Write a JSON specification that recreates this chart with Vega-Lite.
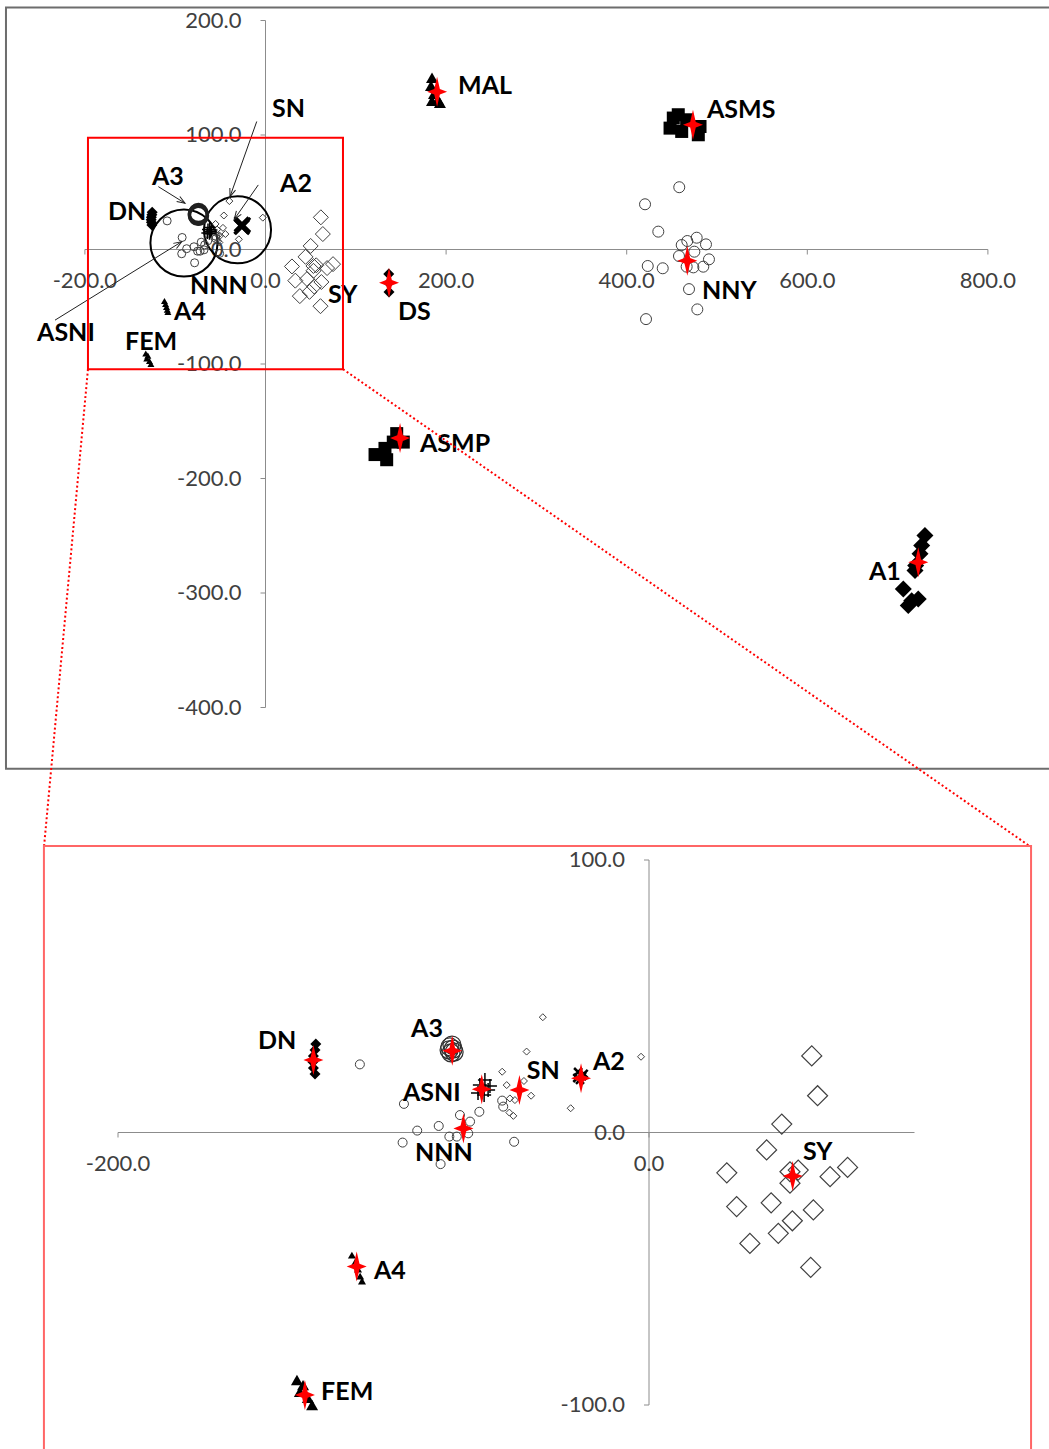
{
  "$schema": "https://vega.github.io/schema/vega-lite/v6.json",
  "width": 1049,
  "height": 1449,
  "padding": 0,
  "autosize": {"type": "none"},
  "background": "white",
  "config": {"view": {"stroke": null}, "text": {"font": "Lato"}},
  "datasets": {
    "pts": [
      {"g": "MAL", "x": 184.4, "y": 150.0}, {"g": "MAL", "x": 183.3, "y": 143.0}, {"g": "MAL", "x": 186.6, "y": 136.0},
      {"g": "MAL", "x": 191.0, "y": 130.8}, {"g": "MAL", "x": 193.2, "y": 128.2}, {"g": "MAL", "x": 184.4, "y": 129.9},
      {"g": "ASMS", "x": 448.0, "y": 106.0}, {"g": "ASMS", "x": 457.1, "y": 117.7}, {"g": "ASMS", "x": 466.4, "y": 113.3},
      {"g": "ASMS", "x": 481.2, "y": 107.4}, {"g": "ASMS", "x": 479.3, "y": 100.2}, {"g": "ASMS", "x": 460.9, "y": 103.1},
      {"g": "ASMS", "x": 451.6, "y": 114.8},
      {"g": "NNY", "x": 458.2, "y": 54.4}, {"g": "NNY", "x": 420.3, "y": 39.5}, {"g": "NNY", "x": 435.0, "y": 15.6},
      {"g": "NNY", "x": 477.5, "y": 10.3}, {"g": "NNY", "x": 467.1, "y": 7.4}, {"g": "NNY", "x": 460.9, "y": 3.9},
      {"g": "NNY", "x": 487.8, "y": 4.5}, {"g": "NNY", "x": 474.9, "y": -1.9}, {"g": "NNY", "x": 457.9, "y": -5.7},
      {"g": "NNY", "x": 491.1, "y": -8.6}, {"g": "NNY", "x": 484.8, "y": -15.0}, {"g": "NNY", "x": 473.8, "y": -15.6},
      {"g": "NNY", "x": 466.4, "y": -15.0}, {"g": "NNY", "x": 423.3, "y": -14.4}, {"g": "NNY", "x": 439.9, "y": -16.4},
      {"g": "NNY", "x": 469.0, "y": -34.6}, {"g": "NNY", "x": 478.2, "y": -52.3}, {"g": "NNY", "x": 421.4, "y": -60.8},
      {"g": "DS", "x": 136.5, "y": -21.4}, {"g": "DS", "x": 136.5, "y": -29.3}, {"g": "DS", "x": 136.8, "y": -37.2},
      {"g": "ASMP", "x": 121.3, "y": -179.1}, {"g": "ASMP", "x": 134.2, "y": -183.6}, {"g": "ASMP", "x": 141.5, "y": -168.2},
      {"g": "ASMP", "x": 152.6, "y": -168.2}, {"g": "ASMP", "x": 145.3, "y": -160.8}, {"g": "ASMP", "x": 132.3, "y": -173.7},
      {"g": "A1", "x": 730.3, "y": -249.8}, {"g": "A1", "x": 726.7, "y": -258.5}, {"g": "A1", "x": 724.8, "y": -265.8},
      {"g": "A1", "x": 720.0, "y": -276.0}, {"g": "A1", "x": 719.3, "y": -280.4}, {"g": "A1", "x": 706.3, "y": -296.4},
      {"g": "A1", "x": 715.6, "y": -306.7}, {"g": "A1", "x": 722.9, "y": -305.2}, {"g": "A1", "x": 711.8, "y": -311.0},
      {"g": "DN", "x": -125.5, "y": 32.5}, {"g": "DN", "x": -125.8, "y": 30.3}, {"g": "DN", "x": -126.4, "y": 28.1},
      {"g": "DN", "x": -126.6, "y": 25.9}, {"g": "DN", "x": -126.4, "y": 23.7}, {"g": "DN", "x": -125.8, "y": 21.5},
      {"g": "A3", "x": -75.0, "y": 31.4}, {"g": "A3", "x": -73.8, "y": 30.6}, {"g": "A3", "x": -74.6, "y": 29.2},
      {"g": "A3", "x": -73.4, "y": 29.5}, {"g": "A3", "x": -74.2, "y": 32.1}, {"g": "A3", "x": -75.3, "y": 30.3},
      {"g": "NNN", "x": -108.9, "y": 25.0}, {"g": "NNN", "x": -92.3, "y": 10.5}, {"g": "NNN", "x": -71.2, "y": 6.4},
      {"g": "NNN", "x": -63.9, "y": 7.6}, {"g": "NNN", "x": -67.4, "y": 4.0}, {"g": "NNN", "x": -79.2, "y": 2.4},
      {"g": "NNN", "x": -87.3, "y": 0.7}, {"g": "NNN", "x": -92.8, "y": -3.7}, {"g": "NNN", "x": -75.2, "y": -1.5},
      {"g": "NNN", "x": -72.4, "y": -1.5}, {"g": "NNN", "x": -68.1, "y": -0.3}, {"g": "NNN", "x": -78.5, "y": -11.6},
      {"g": "NNN", "x": -50.8, "y": -3.4}, {"g": "NNN", "x": -55.3, "y": 11.7}, {"g": "NNN", "x": -54.9, "y": 9.5},
      {"g": "ASNI", "x": -63.7, "y": 17.4}, {"g": "ASNI", "x": -61.8, "y": 19.3}, {"g": "ASNI", "x": -60.6, "y": 15.6},
      {"g": "ASNI", "x": -64.4, "y": 14.5}, {"g": "ASNI", "x": -62.1, "y": 13.8}, {"g": "ASNI", "x": -59.9, "y": 17.1},
      {"g": "SN", "x": -40.0, "y": 42.3}, {"g": "SN", "x": -46.1, "y": 29.7}, {"g": "SN", "x": -55.3, "y": 22.3},
      {"g": "SN", "x": -53.6, "y": 17.4}, {"g": "SN", "x": -47.1, "y": 18.9}, {"g": "SN", "x": -44.4, "y": 13.5},
      {"g": "SN", "x": -52.4, "y": 12.5}, {"g": "SN", "x": -50.5, "y": 11.9}, {"g": "SN", "x": -52.6, "y": 7.3},
      {"g": "SN", "x": -51.1, "y": 6.1}, {"g": "SN", "x": -29.5, "y": 8.9}, {"g": "SN", "x": -3.0, "y": 27.8},
      {"g": "A2", "x": -26.7, "y": 22.2}, {"g": "A2", "x": -25.2, "y": 20.7}, {"g": "A2", "x": -26.0, "y": 19.3},
      {"g": "A2", "x": -24.6, "y": 21.5}, {"g": "A2", "x": -27.0, "y": 20.0},
      {"g": "SY", "x": 61.3, "y": 28.1}, {"g": "SY", "x": 63.5, "y": 13.5}, {"g": "SY", "x": 50.0, "y": 3.1},
      {"g": "SY", "x": 44.3, "y": -6.4}, {"g": "SY", "x": 29.3, "y": -14.8}, {"g": "SY", "x": 53.1, "y": -14.4},
      {"g": "SY", "x": 56.2, "y": -13.8}, {"g": "SY", "x": 53.1, "y": -18.6}, {"g": "SY", "x": 68.2, "y": -16.2},
      {"g": "SY", "x": 74.8, "y": -12.8}, {"g": "SY", "x": 33.0, "y": -27.2}, {"g": "SY", "x": 46.0, "y": -25.8},
      {"g": "SY", "x": 61.9, "y": -28.4}, {"g": "SY", "x": 54.0, "y": -32.4}, {"g": "SY", "x": 48.7, "y": -37.0},
      {"g": "SY", "x": 38.0, "y": -40.7}, {"g": "SY", "x": 60.9, "y": -49.5},
      {"g": "A4", "x": -111.9, "y": -45.0}, {"g": "A4", "x": -110.7, "y": -47.6}, {"g": "A4", "x": -109.6, "y": -50.1},
      {"g": "A4", "x": -108.8, "y": -52.7}, {"g": "A4", "x": -108.1, "y": -54.5},
      {"g": "FEM", "x": -132.6, "y": -90.8}, {"g": "FEM", "x": -130.3, "y": -92.7}, {"g": "FEM", "x": -131.5, "y": -95.2},
      {"g": "FEM", "x": -128.5, "y": -97.4}, {"g": "FEM", "x": -126.9, "y": -100.0}
    ],
    "centroids": [
      {"g": "MAL", "x": 190.0, "y": 137.8}, {"g": "ASMS", "x": 473.4, "y": 108.9}, {"g": "NNY", "x": 467.1, "y": -9.8},
      {"g": "DS", "x": 136.8, "y": -29.0}, {"g": "ASMP", "x": 149.0, "y": -164.7}, {"g": "A1", "x": 722.9, "y": -273.1},
      {"g": "DN", "x": -126.4, "y": 26.6}, {"g": "A3", "x": -74.1, "y": 30.0}, {"g": "ASNI", "x": -63.0, "y": 15.9},
      {"g": "SN", "x": -48.8, "y": 15.6}, {"g": "A2", "x": -25.6, "y": 19.9}, {"g": "NNN", "x": -69.9, "y": 1.5},
      {"g": "SY", "x": 54.1, "y": -16.0}, {"g": "A4", "x": -110.1, "y": -49.2}, {"g": "FEM", "x": -129.6, "y": -96.3}
    ],
    "labelsTop": [
      {"t": "SN", "x": 7.2, "y": 122.9}, {"t": "A3", "x": -125.7, "y": 63.4}, {"t": "A2", "x": 16.1, "y": 57.3},
      {"t": "DN", "x": -174.4, "y": 32.8}, {"t": "NNN", "x": -83.6, "y": -31.9}, {"t": "A4", "x": -101.3, "y": -54.7},
      {"t": "ASNI", "x": -253.0, "y": -73.1}, {"t": "FEM", "x": -155.5, "y": -80.9}, {"t": "SY", "x": 69.2, "y": -39.8},
      {"t": "DS", "x": 146.7, "y": -54.7}, {"t": "MAL", "x": 213.2, "y": 143.0}, {"t": "ASMS", "x": 488.9, "y": 122.0},
      {"t": "NNY", "x": 483.4, "y": -36.3}, {"t": "ASMP", "x": 171.1, "y": -170.2}, {"t": "A1", "x": 668.3, "y": -281.3}
    ],
    "labelsBottom": [
      {"t": "DN", "x": -147.3, "y": 33.6}, {"t": "A3", "x": -89.6, "y": 38.0}, {"t": "ASNI", "x": -92.7, "y": 14.5},
      {"t": "SN", "x": -46.0, "y": 22.6}, {"t": "A2", "x": -21.1, "y": 25.9}, {"t": "NNN", "x": -88.1, "y": -7.5},
      {"t": "SY", "x": 58.0, "y": -7.2}, {"t": "A4", "x": -103.6, "y": -50.8}, {"t": "FEM", "x": -123.5, "y": -95.2}
    ],
    "arrows": [
      {"x": -9.7, "y": 111.8, "x2": -39.3, "y2": 46.2},
      {"x": -8.0, "y": 56.4, "x2": -34.6, "y2": 26.4},
      {"x": -118.7, "y": 54.9, "x2": -89.1, "y2": 40.4},
      {"x": -233.1, "y": -61.7, "x2": -92.8, "y2": 6.8}
    ],
    "ellipses": [{"x": -90.3, "y": 5.7}, {"x": -31.0, "y": 17.2}],
    "zoomBox": [{"x": -196.6, "x2": 85.8, "y": 97.6, "y2": -104.5}],
    "zoomLinks": [
      {"x": -196.6, "y": -104.5, "x2": -245.3, "y2": -521.9},
      {"x": 85.8, "y": -104.5, "x2": 847.8, "y2": -521.9}
    ],
    "frameTop": [{"x": -287.4, "x2": 869.9, "y": 211.3, "y2": -453.6}],
    "frameBottom": [{"x": -227.9, "x2": 143.9, "y": 105.1, "y2": -120.2}],
    "axesTop": [{"x": -200, "x2": 800, "y": 0, "y2": 0}, {"x": 0, "x2": 0, "y": -400, "y2": 200}],
    "axesBottom": [{"x": -200, "x2": 100, "y": 0, "y2": 0}, {"x": 0, "x2": 0, "y": -100, "y2": 100}],
    "xTicksTop": [{"v": -200}, {"v": 0}, {"v": 200}, {"v": 400}, {"v": 600}, {"v": 800}],
    "yTicksTop": [{"v": 200}, {"v": 100}, {"v": 0}, {"v": -100}, {"v": -200}, {"v": -300}, {"v": -400}],
    "xTicksBottom": [{"v": -200}, {"v": 0}],
    "yTicksBottom": [{"v": 100}, {"v": 0}, {"v": -100}]
  },
  "resolve": {"scale": {"x": "independent", "y": "independent"}},
  "layer": [
    {
      "encoding": {
        "x": {"field": "x", "type": "quantitative", "axis": null,
              "scale": {"domain": [-200, 800], "range": [84.9, 987.9], "nice": false, "zero": false}},
        "y": {"field": "y", "type": "quantitative", "axis": null,
              "scale": {"domain": [-400, 200], "range": [707.5, 20.5], "nice": false, "zero": false}}
      },
      "layer": [
        {"data": {"name": "frameTop"}, "mark": {"type": "rect", "fill": "transparent", "stroke": "#6d6d6d", "strokeWidth": 2},
         "encoding": {"x2": {"field": "x2"}, "y2": {"field": "y2"}}},
        {"data": {"name": "axesTop"}, "mark": {"type": "rule", "color": "#8c8c8c", "strokeWidth": 1},
         "encoding": {"x2": {"field": "x2"}, "y2": {"field": "y2"}}},
        {"data": {"name": "xTicksTop"}, "transform": [{"calculate": "datum.v", "as": "x"}, {"calculate": "0", "as": "y"}],
         "mark": {"type": "point", "shape": "M0,0L0,1", "size": 100, "filled": false, "stroke": "#8c8c8c", "strokeWidth": 1, "opacity": 1}},
        {"data": {"name": "yTicksTop"}, "transform": [{"calculate": "0", "as": "x"}, {"calculate": "datum.v", "as": "y"}],
         "mark": {"type": "point", "shape": "M0,0L-1,0", "size": 100, "filled": false, "stroke": "#8c8c8c", "strokeWidth": 1, "opacity": 1}},
        {"data": {"name": "xTicksTop"},
         "transform": [{"calculate": "datum.v", "as": "x"}, {"calculate": "0", "as": "y"},
                       {"calculate": "replace(format(datum.v, '.1f'), '\u2212', '-')", "as": "lab"}],
         "mark": {"type": "text", "fontSize": 22, "color": "#404040", "align": "center", "baseline": "middle", "dy": 31.5},
         "encoding": {"text": {"field": "lab"}}},
        {"data": {"name": "yTicksTop"},
         "transform": [{"calculate": "0", "as": "x"}, {"calculate": "datum.v", "as": "y"},
                       {"calculate": "replace(format(datum.v, '.1f'), '\u2212', '-')", "as": "lab"}],
         "mark": {"type": "text", "fontSize": 22, "color": "#404040", "align": "right", "baseline": "middle", "dx": -24},
         "encoding": {"text": {"field": "lab"}}},
        {"data": {"name": "ellipses"},
         "mark": {"type": "point", "shape": "circle", "size": 4500, "filled": false, "stroke": "black", "strokeWidth": 2, "opacity": 1}},
        {"data": {"name": "pts"}, "transform": [{"filter": "datum.g === 'MAL'"}],
         "mark": {"type": "point", "shape": "triangle-up", "size": 144, "filled": true, "color": "black", "opacity": 1}},
        {"data": {"name": "pts"}, "transform": [{"filter": "datum.g === 'A4' || datum.g === 'FEM'"}],
         "mark": {"type": "point", "shape": "triangle-up", "size": 49, "filled": true, "color": "black", "opacity": 1}},
        {"data": {"name": "pts"}, "transform": [{"filter": "datum.g === 'ASMS' || datum.g === 'ASMP'"}],
         "mark": {"type": "point", "shape": "square", "size": 169, "filled": true, "color": "black", "opacity": 1}},
        {"data": {"name": "pts"}, "transform": [{"filter": "datum.g === 'A1'"}],
         "mark": {"type": "point", "shape": "diamond", "size": 289, "filled": true, "color": "black", "opacity": 1}},
        {"data": {"name": "pts"}, "transform": [{"filter": "datum.g === 'DS' || datum.g === 'DN'"}],
         "mark": {"type": "point", "shape": "diamond", "size": 121, "filled": true, "color": "black", "opacity": 1}},
        {"data": {"name": "pts"}, "transform": [{"filter": "datum.g === 'NNY'"}],
         "mark": {"type": "point", "shape": "circle", "size": 121, "filled": false, "stroke": "#404040", "strokeWidth": 1, "opacity": 1}},
        {"data": {"name": "pts"}, "transform": [{"filter": "datum.g === 'NNN'"}],
         "mark": {"type": "point", "shape": "circle", "size": 64, "filled": false, "stroke": "#404040", "strokeWidth": 1, "opacity": 1}},
        {"data": {"name": "pts"}, "transform": [{"filter": "datum.g === 'A3'"}],
         "mark": {"type": "point", "shape": "circle", "size": 324, "filled": false, "stroke": "#202020", "strokeWidth": 2, "opacity": 1}},
        {"data": {"name": "pts"}, "transform": [{"filter": "datum.g === 'SN'"}],
         "mark": {"type": "point", "shape": "diamond", "size": 49, "filled": false, "stroke": "#404040", "strokeWidth": 1, "opacity": 1}},
        {"data": {"name": "pts"}, "transform": [{"filter": "datum.g === 'SY'"}],
         "mark": {"type": "point", "shape": "diamond", "size": 225, "filled": false, "stroke": "#404040", "strokeWidth": 1, "opacity": 1}},
        {"data": {"name": "pts"}, "transform": [{"filter": "datum.g === 'ASNI'"}],
         "mark": {"type": "point", "shape": "M-1,0L1,0M0,-1L0,1", "size": 144, "filled": false, "stroke": "black", "strokeWidth": 1.5, "opacity": 1}},
        {"data": {"name": "pts"}, "transform": [{"filter": "datum.g === 'A2'"}],
         "mark": {"type": "point", "shape": "M-1,-1L1,1M-1,1L1,-1", "size": 196, "filled": false, "stroke": "black", "strokeWidth": 2.5, "opacity": 1}},
        {"data": {"name": "centroids"}, "transform": [{"filter": "datum.x > 100"}],
         "mark": {"type": "point", "shape": "M0,-1.5L0.28,-0.28L1,0L0.28,0.28L0,1.5L-0.28,0.28L-1,0L-0.28,-0.28Z", "size": 400, "filled": true, "color": "#ff0000", "opacity": 1}},
        {"data": {"name": "labelsTop"},
         "mark": {"type": "text", "fontSize": 25, "fontWeight": "bold", "color": "black", "align": "left", "baseline": "middle"},
         "encoding": {"text": {"field": "t"}}},
        {"data": {"name": "arrows"}, "mark": {"type": "rule", "color": "#202020", "strokeWidth": 1},
         "encoding": {"x2": {"field": "x2"}, "y2": {"field": "y2"}}},
        {"data": {"name": "arrows"},
         "transform": [{"calculate": "atan2((datum.x2 - datum.x) * 0.903, (datum.y2 - datum.y) * 1.143) * 180 / PI", "as": "ang"}],
         "mark": {"type": "point", "shape": "M-0.6,1.6L0,0L0.6,1.6", "size": 100, "filled": false, "stroke": "#202020", "strokeWidth": 1, "opacity": 1},
         "encoding": {
           "x": {"field": "x2", "type": "quantitative", "axis": null},
           "y": {"field": "y2", "type": "quantitative", "axis": null},
           "angle": {"field": "ang", "type": "quantitative", "scale": null}
         }},
        {"data": {"name": "zoomBox"}, "mark": {"type": "rect", "fill": "transparent", "stroke": "#ff0000", "strokeWidth": 2},
         "encoding": {"x2": {"field": "x2"}, "y2": {"field": "y2"}}},
        {"data": {"name": "zoomLinks"}, "mark": {"type": "rule", "color": "#ff0000", "strokeWidth": 2, "strokeDash": [2, 2.5]},
         "encoding": {"x2": {"field": "x2"}, "y2": {"field": "y2"}}}
      ]
    },
    {
      "encoding": {
        "x": {"field": "x", "type": "quantitative", "axis": null,
              "scale": {"domain": [-200, 100], "range": [118, 914.5], "nice": false, "zero": false}},
        "y": {"field": "y", "type": "quantitative", "axis": null,
              "scale": {"domain": [-100, 100], "range": [1405, 860], "nice": false, "zero": false}}
      },
      "layer": [
        {"data": {"name": "frameBottom"}, "mark": {"type": "rect", "fill": "transparent", "stroke": "#ff6666", "strokeWidth": 2},
         "encoding": {"x2": {"field": "x2"}, "y2": {"field": "y2"}}},
        {"data": {"name": "axesBottom"}, "mark": {"type": "rule", "color": "#8c8c8c", "strokeWidth": 1},
         "encoding": {"x2": {"field": "x2"}, "y2": {"field": "y2"}}},
        {"data": {"name": "xTicksBottom"}, "transform": [{"calculate": "datum.v", "as": "x"}, {"calculate": "0", "as": "y"}],
         "mark": {"type": "point", "shape": "M0,0L0,1", "size": 100, "filled": false, "stroke": "#8c8c8c", "strokeWidth": 1, "opacity": 1}},
        {"data": {"name": "yTicksBottom"}, "transform": [{"calculate": "0", "as": "x"}, {"calculate": "datum.v", "as": "y"}],
         "mark": {"type": "point", "shape": "M0,0L-1,0", "size": 100, "filled": false, "stroke": "#8c8c8c", "strokeWidth": 1, "opacity": 1}},
        {"data": {"name": "xTicksBottom"},
         "transform": [{"calculate": "datum.v", "as": "x"}, {"calculate": "0", "as": "y"},
                       {"calculate": "replace(format(datum.v, '.1f'), '\u2212', '-')", "as": "lab"}],
         "mark": {"type": "text", "fontSize": 22, "color": "#404040", "align": "center", "baseline": "middle", "dy": 31},
         "encoding": {"text": {"field": "lab"}}},
        {"data": {"name": "yTicksBottom"},
         "transform": [{"calculate": "0", "as": "x"}, {"calculate": "datum.v", "as": "y"},
                       {"calculate": "replace(format(datum.v, '.1f'), '\u2212', '-')", "as": "lab"}],
         "mark": {"type": "text", "fontSize": 22, "color": "#404040", "align": "right", "baseline": "middle", "dx": -24},
         "encoding": {"text": {"field": "lab"}}},
        {"data": {"name": "pts"}, "transform": [{"filter": "datum.g === 'DN'"}],
         "mark": {"type": "point", "shape": "diamond", "size": 121, "filled": true, "color": "black", "opacity": 1}},
        {"data": {"name": "pts"}, "transform": [{"filter": "datum.g === 'A4'"}],
         "mark": {"type": "point", "shape": "triangle-up", "size": 64, "filled": true, "color": "black", "opacity": 1}},
        {"data": {"name": "pts"}, "transform": [{"filter": "datum.g === 'FEM'"}],
         "mark": {"type": "point", "shape": "triangle-up", "size": 144, "filled": true, "color": "black", "opacity": 1}},
        {"data": {"name": "pts"}, "transform": [{"filter": "datum.g === 'NNN'"}],
         "mark": {"type": "point", "shape": "circle", "size": 81, "filled": false, "stroke": "#404040", "strokeWidth": 1, "opacity": 1}},
        {"data": {"name": "pts"}, "transform": [{"filter": "datum.g === 'A3'"}],
         "mark": {"type": "point", "shape": "circle", "size": 324, "filled": false, "stroke": "#303030", "strokeWidth": 1.2, "opacity": 1}},
        {"data": {"name": "pts"}, "transform": [{"filter": "datum.g === 'SN'"}],
         "mark": {"type": "point", "shape": "diamond", "size": 49, "filled": false, "stroke": "#404040", "strokeWidth": 1, "opacity": 1}},
        {"data": {"name": "pts"}, "transform": [{"filter": "datum.g === 'SY'"}],
         "mark": {"type": "point", "shape": "diamond", "size": 400, "filled": false, "stroke": "#404040", "strokeWidth": 1.2, "opacity": 1}},
        {"data": {"name": "pts"}, "transform": [{"filter": "datum.g === 'ASNI'"}],
         "mark": {"type": "point", "shape": "M-1,0L1,0M0,-1L0,1", "size": 196, "filled": false, "stroke": "black", "strokeWidth": 1.5, "opacity": 1}},
        {"data": {"name": "pts"}, "transform": [{"filter": "datum.g === 'A2'"}],
         "mark": {"type": "point", "shape": "M-1,-1L1,1M-1,1L1,-1", "size": 64, "filled": false, "stroke": "black", "strokeWidth": 2.5, "opacity": 1}},
        {"data": {"name": "centroids"}, "transform": [{"filter": "datum.x < 100"}],
         "mark": {"type": "point", "shape": "M0,-1.5L0.28,-0.28L1,0L0.28,0.28L0,1.5L-0.28,0.28L-1,0L-0.28,-0.28Z", "size": 400, "filled": true, "color": "#ff0000", "opacity": 1}},
        {"data": {"name": "labelsBottom"},
         "mark": {"type": "text", "fontSize": 25, "fontWeight": "bold", "color": "black", "align": "left", "baseline": "middle"},
         "encoding": {"text": {"field": "t"}}}
      ]
    }
  ]
}
